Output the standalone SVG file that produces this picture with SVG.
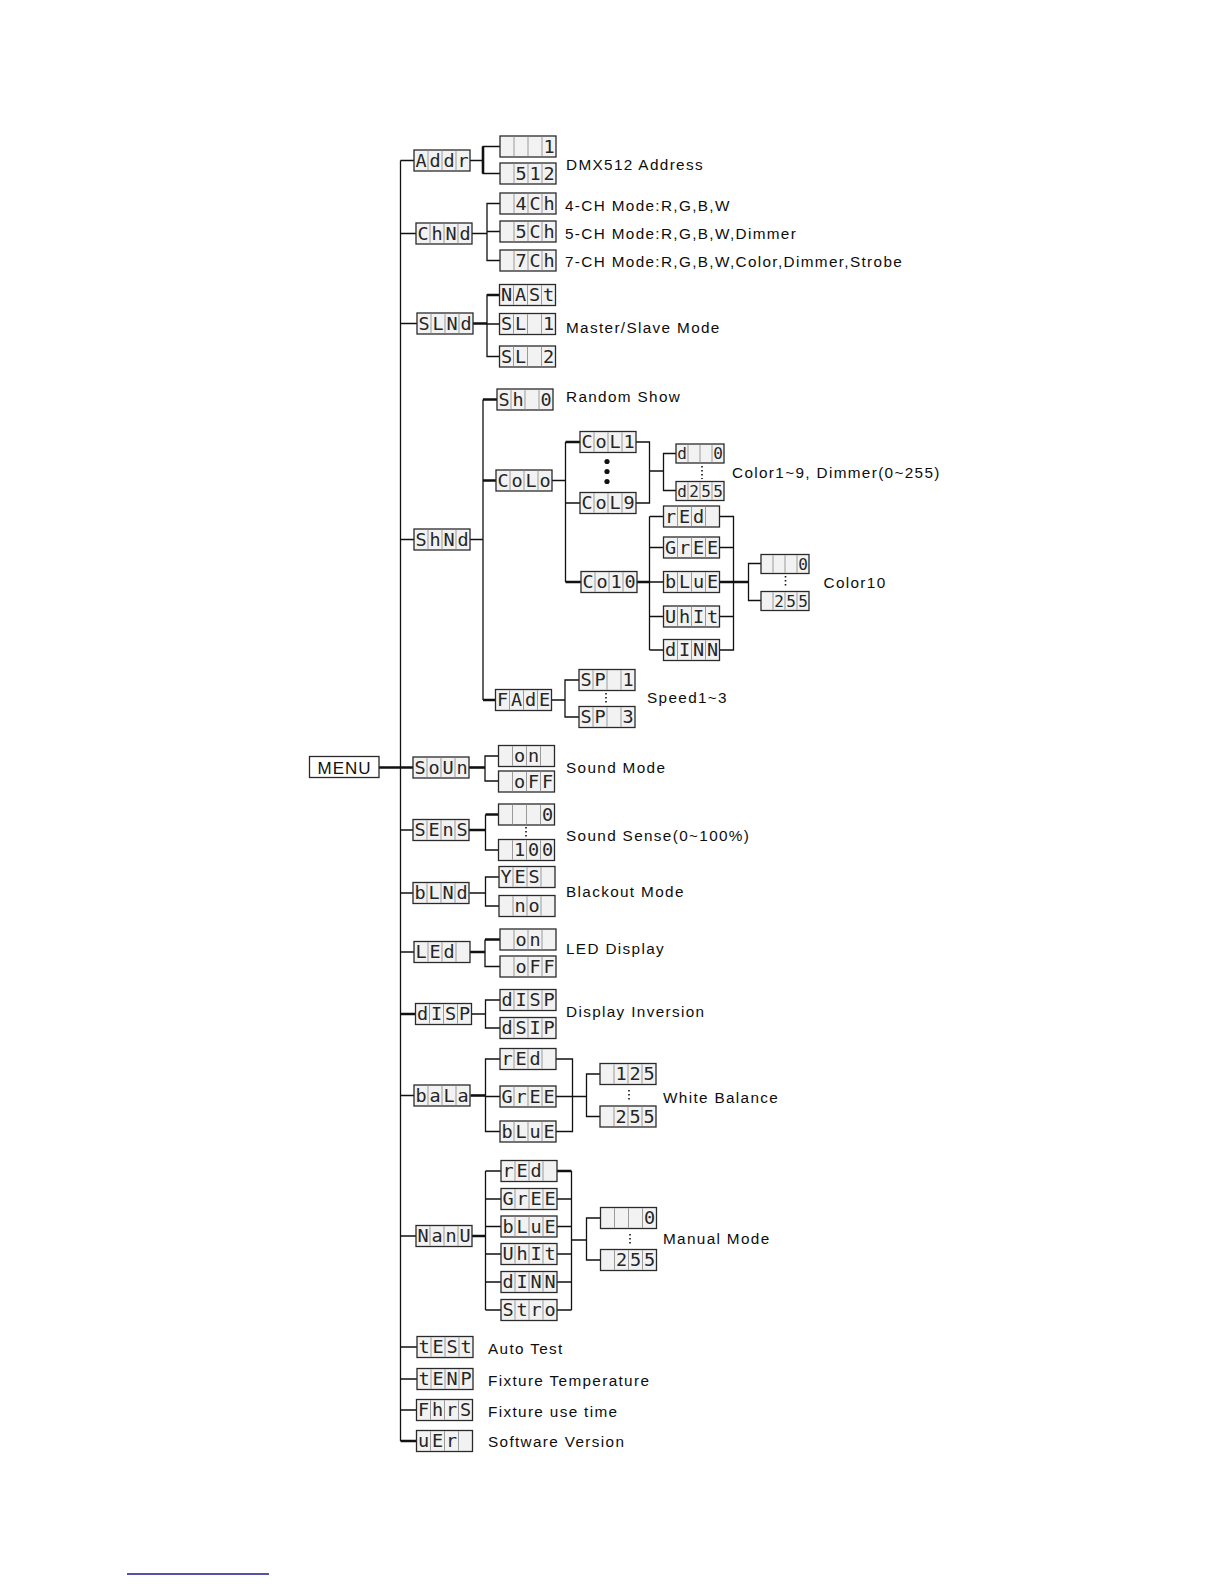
<svg xmlns="http://www.w3.org/2000/svg" width="1224" height="1584" viewBox="0 0 1224 1584">
<style>
.b{fill:#f2f2f2;stroke:#2a2a2a;stroke-width:1.3}
.dv{stroke:#9a9a9a;stroke-width:1;fill:none}
.g{font-family:"DejaVu Sans Mono","Liberation Mono",monospace;font-size:18.5px;fill:#262626;text-anchor:middle}
.gs{font-family:"DejaVu Sans Mono","Liberation Mono",monospace;font-size:16px;fill:#262626;text-anchor:middle}
.t{font-family:"Liberation Sans",Arial,sans-serif;font-size:15.3px;letter-spacing:1.35px;fill:#0d0d0d}
.m{font-family:"Liberation Sans",Arial,sans-serif;font-size:17px;letter-spacing:1px;fill:#111;text-anchor:middle}
#conn path{stroke:#111;stroke-width:1.3;fill:none}
#conn path.k{stroke-width:2.6}
.dt{stroke:#111;stroke-width:1.6;stroke-dasharray:1.6 2.4;fill:none}
</style>
<defs>
<g id="L"><rect class="b" x="0" y="0" width="56" height="21"/><path class="dv" d="M14 0.7v19.6M28 0.7v19.6M42 0.7v19.6"/></g>
<g id="S"><rect class="b" x="0" y="0" width="48" height="19"/><path class="dv" d="M12 0.7v17.6M24 0.7v17.6M36 0.7v17.6"/></g>
</defs>
<rect width="1224" height="1584" fill="#fff"/>
<g id="conn">
<path d="M400.5 160.5V1441"/>
<path d="M400.5 160.5H414M400.5 233.5H416M400.5 323.5H417M400.5 539.5H414M400.5 830H413M400.5 893H413M400.5 952H414M400.5 1095.5H414M400.5 1236H416M400.5 1347H417M400.5 1379H417M400.5 1410H416.5"/>
<path class="k" d="M379 767.5H413M400.5 1014H415.5M400.5 1441H416.5"/>
<path d="M470 160.5H483M500 146.5H483V173.5H500"/>
<path class="k" d="M483 146.5V173.5"/>
<path d="M472 233.5H487M500 203.5H487V260.5H500M487 231.5H500"/>
<path d="M499.5 295H487V356.5H499.5M487 324H499.5"/>
<path class="k" d="M473 323.5H487M487 295H499.5"/>
<path d="M470 539.5H483M483 399.5V700"/>
<path class="k" d="M483 399.5H497M483 480.5H496M483 700H495.5"/>
<path d="M552 480.5H565.5M565.5 442V582M565.5 503H580"/>
<path class="k" d="M565.5 442H580M565.5 582H581"/>
<path d="M636 442H649.5V503H636M649.5 471H663.5M676 453.5H663.5V490.5H676"/>
<path d="M649.5 516.5V650M649.5 516.5H663.5M649.5 547.5H663.5M649.5 582H663.5M649.5 616.5H663.5M649.5 650H663.5"/>
<path class="k" d="M637 582H649.5M719 582H748.5"/>
<path d="M719 516.5H733.5V650H719M719 547.5H733.5M719 616.5H733.5M761 563.5H748.5V600.5H761"/>
<path d="M551 700H565M579 680H565V717H579"/>
<path class="k" d="M468.5 767.5H485"/>
<path d="M498.5 756H485V781H498.5"/>
<path class="k" d="M469 830H485.5M498.5 814.5H485.5"/>
<path d="M485.5 814.5V850H498.5"/>
<path d="M469.5 893H485.5M499 877H485.5V906H499"/>
<path class="k" d="M470 952H485M500 939.5H485"/>
<path d="M485 939.5V966.5H500"/>
<path d="M471 1014H485.5M500 1000H485.5V1028H500"/>
<path class="k" d="M470.5 1095.5H485.5"/>
<path d="M500 1059H485.5V1131.5H500M485.5 1096.5H500M556 1059H572.5V1131.5H556M556 1096.5H586.5M600 1074H586.5V1116.5H600"/>
<path class="k" d="M472 1236H485.5M556.5 1171H571.5"/>
<path d="M485.5 1171V1310M485.5 1171H501M485.5 1199H501M485.5 1226.5H501M485.5 1254H501M485.5 1282H501M485.5 1310H501"/>
<path d="M571.5 1171V1310M556.5 1199H571.5M556.5 1226.5H571.5M556.5 1254H571.5M556.5 1282H571.5M556.5 1310H571.5M571.5 1240H586.5M600.5 1218H586.5V1260H600.5"/>
</g>
<g id="dots">
<circle cx="607" cy="461.5" r="2.6" fill="#111"/>
<circle cx="607" cy="471.5" r="2.6" fill="#111"/>
<circle cx="607" cy="481.5" r="2.6" fill="#111"/>
<path class="dt" d="M702 466V479M785.5 576V587M606 693V705M526 827V838M629 1090V1101M630 1234V1245"/>
</g>
<g id="menu"><rect x="309.5" y="756.5" width="69.5" height="21" fill="#fff" stroke="#2a2a2a" stroke-width="1.3"/><text class="m" x="344.5" y="773.5">MENU</text></g>
<g id="n-addr"><use href="#L" x="414" y="150"/><text class="g" x="421 435 449 463" y="166.5">Addr</text></g>
<g id="n-addr-1"><use href="#L" x="500" y="136"/><text class="g" x="549" y="152.5">1</text></g>
<g id="n-addr-512"><use href="#L" x="500" y="163"/><text class="g" x="521 535 549" y="179.5">512</text></g>
<g id="n-chnd"><use href="#L" x="416" y="223"/><text class="g" x="423 437 451 465" y="239.5">ChNd</text></g>
<g id="n-4ch"><use href="#L" x="500" y="193"/><text class="g" x="521 535 549" y="209.5">4Ch</text></g>
<g id="n-5ch"><use href="#L" x="500" y="221"/><text class="g" x="521 535 549" y="237.5">5Ch</text></g>
<g id="n-7ch"><use href="#L" x="500" y="250"/><text class="g" x="521 535 549" y="266.5">7Ch</text></g>
<g id="n-slnd"><use href="#L" x="417" y="313"/><text class="g" x="424 438 452 466" y="329.5">SLNd</text></g>
<g id="n-mast"><use href="#L" x="499.5" y="284.5"/><text class="g" x="506.5 520.5 534.5 548.5" y="301">NASt</text></g>
<g id="n-sl1"><use href="#L" x="499.5" y="313.5"/><text class="g" x="506.5 520.5 548.5" y="330">SL1</text></g>
<g id="n-sl2"><use href="#L" x="499.5" y="346"/><text class="g" x="506.5 520.5 548.5" y="362.5">SL2</text></g>
<g id="n-shnd"><use href="#L" x="414" y="529"/><text class="g" x="421 435 449 463" y="545.5">ShNd</text></g>
<g id="n-sh0"><use href="#L" x="497" y="389"/><text class="g" x="504 518 546" y="405.5">Sh0</text></g>
<g id="n-colo"><use href="#L" x="496" y="470"/><text class="g" x="503 517 531 545" y="486.5">CoLo</text></g>
<g id="n-col1"><use href="#L" x="580" y="431.5"/><text class="g" x="587 601 615 629" y="448">CoL1</text></g>
<g id="n-col9"><use href="#L" x="580" y="492.5"/><text class="g" x="587 601 615 629" y="509">CoL9</text></g>
<g id="n-d0"><use href="#S" x="676" y="444"/><text class="gs" x="682 718" y="459">d0</text></g>
<g id="n-d255"><use href="#S" x="676" y="481.5"/><text class="gs" x="682 694 706 718" y="496.5">d255</text></g>
<g id="n-co10"><use href="#L" x="581" y="571.5"/><text class="g" x="588 602 616 630" y="588">Co10</text></g>
<g id="n-red1"><use href="#L" x="663.5" y="506"/><text class="g" x="670.5 684.5 698.5" y="522.5">rEd</text></g>
<g id="n-gree1"><use href="#L" x="663.5" y="537"/><text class="g" x="670.5 684.5 698.5 712.5" y="553.5">GrEE</text></g>
<g id="n-blue1"><use href="#L" x="663.5" y="571.5"/><text class="g" x="670.5 684.5 698.5 712.5" y="588">bLuE</text></g>
<g id="n-whit1"><use href="#L" x="663.5" y="606"/><text class="g" x="670.5 684.5 698.5 712.5" y="622.5">UhIt</text></g>
<g id="n-dimm1"><use href="#L" x="663.5" y="639.5"/><text class="g" x="670.5 684.5 698.5 712.5" y="656">dINN</text></g>
<g id="n-c10-0"><use href="#S" x="761" y="554.5"/><text class="gs" x="803" y="569.5">0</text></g>
<g id="n-c10-255"><use href="#S" x="761" y="591.5"/><text class="gs" x="779 791 803" y="606.5">255</text></g>
<g id="n-fade"><use href="#L" x="495.5" y="689.5"/><text class="g" x="502.5 516.5 530.5 544.5" y="706">FAdE</text></g>
<g id="n-sp1"><use href="#L" x="579" y="669.5"/><text class="g" x="586 600 628" y="686">SP1</text></g>
<g id="n-sp3"><use href="#L" x="579" y="706.5"/><text class="g" x="586 600 628" y="723">SP3</text></g>
<g id="n-soun"><use href="#L" x="413" y="757"/><text class="g" x="420 434 448 462" y="773.5">SoUn</text></g>
<g id="n-on1"><use href="#L" x="498.5" y="745.5"/><text class="g" x="519.5 533.5" y="762">on</text></g>
<g id="n-off1"><use href="#L" x="498.5" y="771"/><text class="g" x="519.5 533.5 547.5" y="787.5">oFF</text></g>
<g id="n-sens"><use href="#L" x="413" y="819.5"/><text class="g" x="420 434 448 462" y="836">SEnS</text></g>
<g id="n-sens0"><use href="#L" x="498.5" y="804"/><text class="g" x="547.5" y="820.5">0</text></g>
<g id="n-sens100"><use href="#L" x="498.5" y="839.5"/><text class="g" x="519.5 533.5 547.5" y="856">100</text></g>
<g id="n-blnd"><use href="#L" x="413" y="882.5"/><text class="g" x="420 434 448 462" y="899">bLNd</text></g>
<g id="n-yes"><use href="#L" x="499" y="866.5"/><text class="g" x="506 520 534" y="883">YES</text></g>
<g id="n-no"><use href="#L" x="499" y="895.5"/><text class="g" x="520 534" y="912">no</text></g>
<g id="n-led"><use href="#L" x="414" y="941.5"/><text class="g" x="421 435 449" y="958">LEd</text></g>
<g id="n-on2"><use href="#L" x="500" y="929"/><text class="g" x="521 535" y="945.5">on</text></g>
<g id="n-off2"><use href="#L" x="500" y="956"/><text class="g" x="521 535 549" y="972.5">oFF</text></g>
<g id="n-disp"><use href="#L" x="415.5" y="1003.5"/><text class="g" x="422.5 436.5 450.5 464.5" y="1020">dISP</text></g>
<g id="n-disp1"><use href="#L" x="500" y="989.5"/><text class="g" x="507 521 535 549" y="1006">dISP</text></g>
<g id="n-dsip"><use href="#L" x="500" y="1017.5"/><text class="g" x="507 521 535 549" y="1034">dSIP</text></g>
<g id="n-bala"><use href="#L" x="414" y="1085"/><text class="g" x="421 435 449 463" y="1101.5">baLa</text></g>
<g id="n-red2"><use href="#L" x="500" y="1048.5"/><text class="g" x="507 521 535" y="1065">rEd</text></g>
<g id="n-gree2"><use href="#L" x="500" y="1086"/><text class="g" x="507 521 535 549" y="1102.5">GrEE</text></g>
<g id="n-blue2"><use href="#L" x="500" y="1121"/><text class="g" x="507 521 535 549" y="1137.5">bLuE</text></g>
<g id="n-125"><use href="#L" x="600" y="1063.5"/><text class="g" x="621 635 649" y="1080">125</text></g>
<g id="n-255b"><use href="#L" x="600" y="1106"/><text class="g" x="621 635 649" y="1122.5">255</text></g>
<g id="n-manu"><use href="#L" x="416" y="1225.5"/><text class="g" x="423 437 451 465" y="1242">NanU</text></g>
<g id="n-red3"><use href="#L" x="501" y="1160.5"/><text class="g" x="508 522 536" y="1177">rEd</text></g>
<g id="n-gree3"><use href="#L" x="501" y="1188.5"/><text class="g" x="508 522 536 550" y="1205">GrEE</text></g>
<g id="n-blue3"><use href="#L" x="501" y="1216"/><text class="g" x="508 522 536 550" y="1232.5">bLuE</text></g>
<g id="n-whit3"><use href="#L" x="501" y="1243.5"/><text class="g" x="508 522 536 550" y="1260">UhIt</text></g>
<g id="n-dimm3"><use href="#L" x="501" y="1271.5"/><text class="g" x="508 522 536 550" y="1288">dINN</text></g>
<g id="n-stro"><use href="#L" x="501" y="1299.5"/><text class="g" x="508 522 536 550" y="1316">Stro</text></g>
<g id="n-man0"><use href="#L" x="600.5" y="1207.5"/><text class="g" x="649.5" y="1224">0</text></g>
<g id="n-man255"><use href="#L" x="600.5" y="1249.5"/><text class="g" x="621.5 635.5 649.5" y="1266">255</text></g>
<g id="n-test"><use href="#L" x="417" y="1336.5"/><text class="g" x="424 438 452 466" y="1353">tESt</text></g>
<g id="n-temp"><use href="#L" x="417" y="1368.5"/><text class="g" x="424 438 452 466" y="1385">tENP</text></g>
<g id="n-fhrs"><use href="#L" x="416.5" y="1399.5"/><text class="g" x="423.5 437.5 451.5 465.5" y="1416">FhrS</text></g>
<g id="n-ver"><use href="#L" x="416.5" y="1430.5"/><text class="g" x="423.5 437.5 451.5" y="1447">uEr</text></g>
<g id="labels">
<text class="t" x="566" y="170">DMX512 Address</text>
<text class="t" x="565" y="211">4-CH Mode:R,G,B,W</text>
<text class="t" x="565" y="239">5-CH Mode:R,G,B,W,Dimmer</text>
<text class="t" x="565" y="266.5">7-CH Mode:R,G,B,W,Color,Dimmer,Strobe</text>
<text class="t" x="566" y="333">Master/Slave Mode</text>
<text class="t" x="566" y="402">Random Show</text>
<text class="t" x="732" y="477.5">Color1~9, Dimmer(0~255)</text>
<text class="t" x="823.5" y="588">Color10</text>
<text class="t" x="647" y="703">Speed1~3</text>
<text class="t" x="566" y="773">Sound Mode</text>
<text class="t" x="566" y="841">Sound Sense(0~100%)</text>
<text class="t" x="566" y="896.5">Blackout Mode</text>
<text class="t" x="566" y="954">LED Display</text>
<text class="t" x="566" y="1017">Display Inversion</text>
<text class="t" x="663" y="1102.5">White Balance</text>
<text class="t" x="663" y="1244">Manual Mode</text>
<text class="t" x="488" y="1354">Auto Test</text>
<text class="t" x="488" y="1385.5">Fixture Temperature</text>
<text class="t" x="488" y="1417">Fixture use time</text>
<text class="t" x="488" y="1447">Software Version</text>
</g>
<path d="M127 1574H269" stroke="#1a1a8c" stroke-width="1.4"/>
</svg>
